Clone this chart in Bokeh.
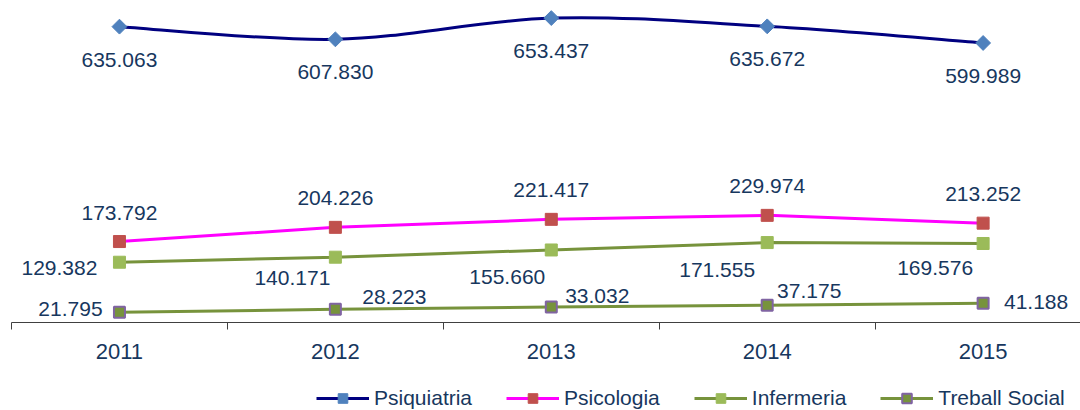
from bokeh.plotting import figure
from bokeh.models import (Range1d, FixedTicker, ColumnDataSource, LabelSet,
                          Legend, LegendItem)
from bokeh.layouts import column
from bokeh.core.properties import value
from bokeh.embed import file_html
from bokeh.resources import INLINE
import numpy as np

# ---- data ----
years = ["2011", "2012", "2013", "2014", "2015"]
psiquiatria = [635.063, 607.830, 653.437, 635.672, 599.989]
psicologia = [173.792, 204.226, 221.417, 229.974, 213.252]
infermeria = [129.382, 140.171, 155.660, 171.555, 169.576]
treball_social = [21.795, 28.223, 33.032, 37.175, 41.188]
series_names = ["Psiquiatria", "Psicologia", "Infermeria", "Treball Social"]

# ---- label offsets (screen px; +x right, +y up) ----
off_psiq = ([0, 0, 0, 0, 0], [-33, -33, -33, -33, -33])
off_psic = ([0, 0, 0, 0, 0], [29, 29, 29, 29, 29])
off_inf = ([-60, -43, -44, -50, -48], [-6, -21, -27, -27, -25])
off_ts = ([-49, 59, 46, 42, 53], [3, 12, 11, 14, 1])

FONT = "Liberation Sans"
TXT = "#17375E"
xs = list(range(len(years)))

p = figure(width=1080, height=380, output_backend="svg",
           toolbar_location=None,
           x_range=Range1d(-0.5, 4.451), y_range=Range1d(0, 674),
           y_axis_location=None, min_border_left=11, min_border_right=0,
           min_border_top=8, min_border_bottom=58)
p.outline_line_color = None
p.xgrid.visible = False
p.ygrid.visible = False
p.background_fill_color = "white"

# x axis
ax = p.xaxis[0]
ax.ticker = FixedTicker(ticks=xs, minor_ticks=[-0.5, 0.5, 1.5, 2.5, 3.5, 4.5])
ax.major_label_overrides = {i: y for i, y in zip(xs, years)}
ax.major_tick_out = 0
ax.major_tick_in = 0
ax.minor_tick_out = 7
ax.minor_tick_in = 0
ax.minor_tick_line_color = "#404040"
ax.axis_line_color = "#404040"
ax.axis_line_width = 1
ax.major_label_standoff = 14
ax.major_label_text_font = FONT
ax.major_label_text_font_size = "22px"
ax.major_label_text_color = TXT

# Psiquiatria smoothed curve (Bezier segments through the data points)
n = len(xs)
def ctrl(vals):
    x0, y0, x1, y1, cx0, cy0, cx1, cy1 = [], [], [], [], [], [], [], []
    for i in range(n - 1):
        im = max(i - 1, 0)
        ip = min(i + 2, n - 1)
        x0.append(xs[i]); y0.append(vals[i])
        x1.append(xs[i + 1]); y1.append(vals[i + 1])
        cx0.append(xs[i] + (xs[i + 1] - xs[im]) / 6)
        cy0.append(vals[i] + (vals[i + 1] - vals[im]) / 6)
        cx1.append(xs[i + 1] - (xs[ip] - xs[i]) / 6)
        cy1.append(vals[i + 1] - (vals[ip] - vals[i]) / 6)
    return dict(x0=x0, y0=y0, x1=x1, y1=y1, cx0=cx0, cy0=cy0, cx1=cx1, cy1=cy1)

bz_src = ColumnDataSource(ctrl(psiquiatria))

def draw_series(fig):
    bz = fig.bezier(source=bz_src, x0="x0", y0="y0", x1="x1", y1="y1",
                    cx0="cx0", cy0="cy0", cx1="cx1", cy1="cy1",
                    line_color="#000080", line_width=3)
    l_ts = fig.line(xs, treball_social, line_color="#77933C", line_width=3)
    l_inf = fig.line(xs, infermeria, line_color="#77933C", line_width=3)
    l_psic = fig.line(xs, psicologia, line_color="#FF00FF", line_width=3)
    m_psiq = fig.scatter(xs, psiquiatria, marker="square", angle=np.pi / 4,
                         size=10.5, fill_color="#4F81BD", line_color="#4F81BD")
    m_psic = fig.scatter(xs, psicologia, marker="square", size=12,
                         fill_color="#C0504D", line_color="#C0504D")
    m_inf = fig.scatter(xs, infermeria, marker="square", size=12,
                        fill_color="#9BBB59", line_color="#9BBB59")
    m_ts = fig.scatter(xs, treball_social, marker="square", size=11,
                       fill_color="#77933C", line_color="#8064A2", line_width=2)
    return [[bz, m_psiq], [l_psic, m_psic], [l_inf, m_inf], [l_ts, m_ts]]

draw_series(p)

def add_labels(vals, offs):
    src = ColumnDataSource(dict(x=xs, y=vals, t=[f"{v:.3f}" for v in vals],
                                dx=offs[0], dy=offs[1]))
    p.add_layout(LabelSet(source=src, x="x", y="y", text="t", x_offset="dx",
                          y_offset="dy", text_align="center",
                          text_baseline="middle", text_font=value(FONT),
                          text_font_size="21px", text_color=TXT))

add_labels(psiquiatria, off_psiq)
add_labels(psicologia, off_psic)
add_labels(infermeria, off_inf)
add_labels(treball_social, off_ts)

# legend strip (series drawn outside its visible range; only the legend shows)
q = figure(width=1080, height=30, output_backend="svg", toolbar_location=None,
           x_range=Range1d(100, 101), y_range=Range1d(10000, 10001),
           x_axis_location=None, y_axis_location=None,
           min_border_left=0, min_border_right=0, min_border_top=0,
           min_border_bottom=0)
q.outline_line_color = None
q.xgrid.visible = False
q.ygrid.visible = False
leg_renderers = draw_series(q)

legend = Legend(items=[LegendItem(label=nm, renderers=r)
                       for nm, r in zip(series_names, leg_renderers)],
                orientation="horizontal", location=(305, 0),
                glyph_width=53, glyph_height=24,
                label_standoff=5, spacing=34, padding=0, margin=0,
                border_line_color=None, background_fill_alpha=0,
                label_text_font=FONT, label_text_font_size="21px",
                label_text_color=TXT)
q.add_layout(legend, "center")

layout = column(p, q, spacing=0)
open("out.html", "w").write(file_html(layout, INLINE))
